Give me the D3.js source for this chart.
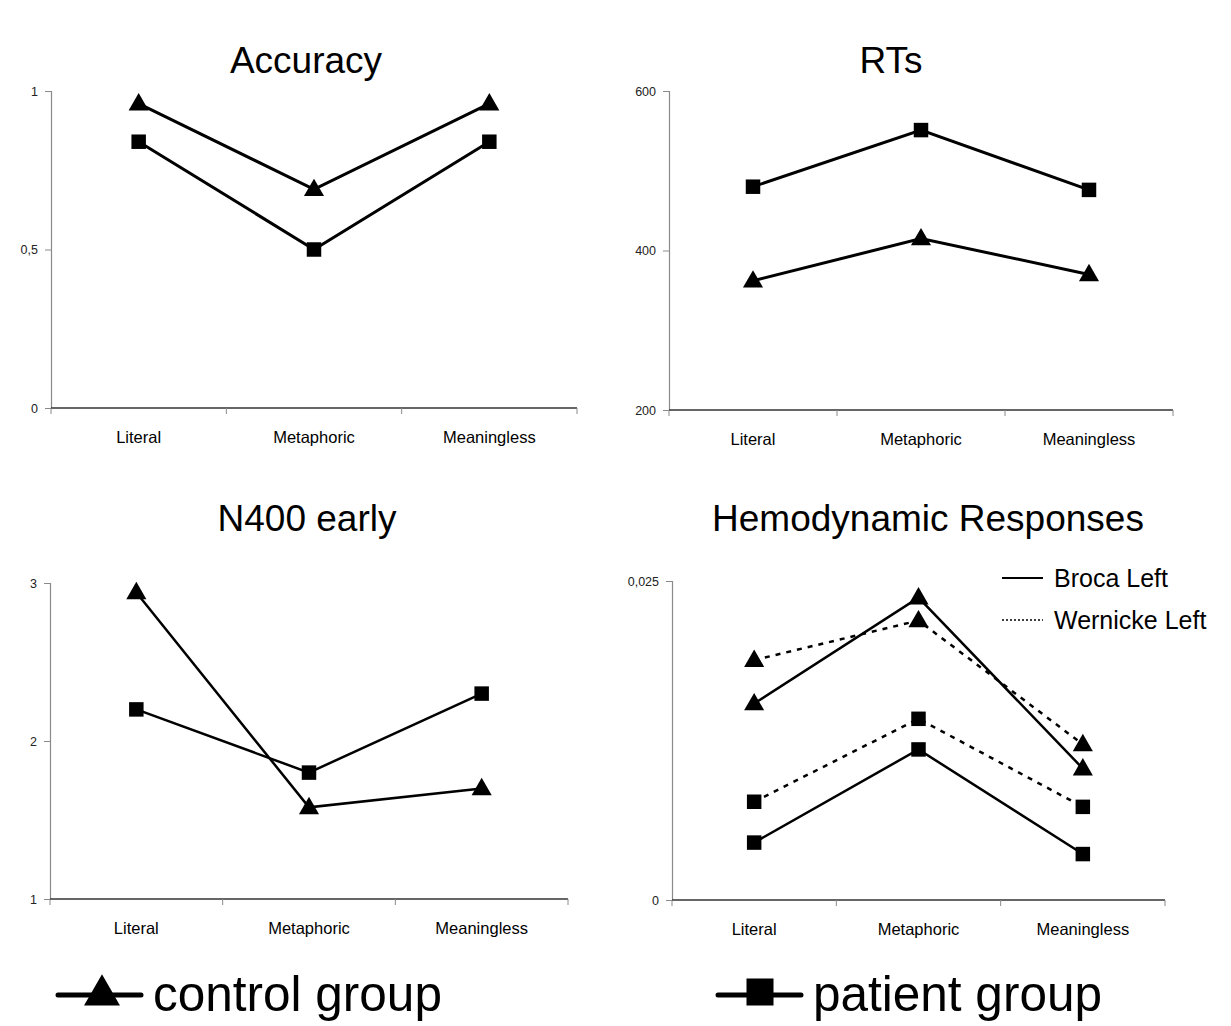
<!DOCTYPE html>
<html>
<head>
<meta charset="utf-8">
<script src="https://cdn.jsdelivr.net/npm/d3@7"></script>
<style>
  body { margin: 0; background: #fff; }
  svg { font-family: "Liberation Sans", Arial, sans-serif; }
</style>
</head>
<body>
<div id="chart"></div>
<script>
// categories shared by all four panels
const categories = ["Literal", "Metaphoric", "Meaningless"];

// Accuracy
const accControl = [0.96, 0.69, 0.96];
const accPatient = [0.84, 0.50, 0.84];
const accTicks = [0, 0.5, 1];

// RTs
const rtControl = [362, 415, 370];
const rtPatient = [480, 551, 476];
const rtTicks = [200, 400, 600];

// N400 early
const n400Control = [2.94, 1.58, 1.70];
const n400Patient = [2.20, 1.80, 2.30];
const n400Ticks = [1, 2, 3];

// Hemodynamic responses
const brocaControl = [0.0154, 0.0237, 0.0103];
const brocaPatient = [0.0045, 0.0118, 0.0036];
const wernickeControl = [0.0188, 0.0219, 0.0122];
const wernickePatient = [0.0077, 0.0142, 0.0073];
const hemoTicks = [0, 0.025];

const width = 1231;
const height = 1026;

const svg = d3.select("#chart")
  .append("svg")
  .attr("width", width)
  .attr("height", height);

const fmt = d => String(d).replace(".", ",");

function drawPanel(p) {
  const g = svg.append("g");
  const x = d3.scaleBand().domain(categories).range([p.x0, p.x1]).padding(0);
  const y = d3.scaleLinear().domain(p.domain).range([p.yBot, p.yTop]);

  // title
  g.append("text")
    .attr("x", p.titleX)
    .attr("y", p.titleY)
    .attr("text-anchor", "middle")
    .attr("font-size", 37)
    .attr("fill", "#000")
    .text(p.title);

  // y axis
  const yAxis = g.append("g")
    .attr("transform", `translate(${p.x0},0)`)
    .call(d3.axisLeft(y).tickValues(p.ticks).tickFormat(fmt).tickSize(6).tickPadding(7));
  yAxis.select(".domain").attr("stroke", "#8a8a8a").attr("stroke-width", 1.2);
  yAxis.selectAll(".tick line").attr("stroke", "#8a8a8a");
  yAxis.selectAll(".tick text")
    .attr("font-size", 12.5)
    .attr("fill", "#222")
    .attr("font-family", "Liberation Sans, Arial, sans-serif");

  // x axis with ticks at band boundaries
  const xAxis = g.append("g").attr("transform", `translate(0,${p.yBot})`);
  xAxis.append("line")
    .attr("x1", p.x0).attr("x2", p.x1)
    .attr("stroke", "#333").attr("stroke-width", 1.3);
  const bounds = categories.map(c => x(c)).concat([p.x1]);
  xAxis.selectAll("line.bt").data(bounds).join("line")
    .attr("class", "bt")
    .attr("x1", d => d).attr("x2", d => d)
    .attr("y1", 0).attr("y2", 6)
    .attr("stroke", "#8a8a8a");
  xAxis.selectAll("text").data(categories).join("text")
    .attr("x", d => x(d) + x.bandwidth() / 2)
    .attr("y", 35)
    .attr("text-anchor", "middle")
    .attr("font-size", 16.5)
    .attr("fill", "#000")
    .text(d => d);

  const line = d3.line()
    .x((d, i) => x(categories[i]) + x.bandwidth() / 2)
    .y(d => y(d));

  p.series.forEach(s => {
    g.append("path")
      .datum(s.values)
      .attr("d", line)
      .attr("fill", "none")
      .attr("stroke", "#000")
      .attr("stroke-width", p.lineWidth)
      .attr("stroke-dasharray", s.dash || null);
    const sym = d3.symbol()
      .type(s.marker === "tri" ? d3.symbolTriangle : d3.symbolSquare)
      .size(s.marker === "tri" ? 175 : 210);
    g.selectAll(null).data(s.values).join("path")
      .attr("transform", (d, i) => `translate(${x(categories[i]) + x.bandwidth() / 2},${y(d) + (s.marker === "tri" ? 1 : 0)})`)
      .attr("d", sym)
      .attr("fill", "#000");
  });
  return g;
}

drawPanel({
  title: "Accuracy", titleX: 306, titleY: 73,
  x0: 51, x1: 577, yTop: 91, yBot: 408, domain: [0, 1], ticks: accTicks,
  lineWidth: 3,
  series: [
    { values: accControl, marker: "tri" },
    { values: accPatient, marker: "sq" }
  ]
});

drawPanel({
  title: "RTs", titleX: 891, titleY: 73,
  x0: 669, x1: 1173, yTop: 91, yBot: 410, domain: [200, 600], ticks: rtTicks,
  lineWidth: 3,
  series: [
    { values: rtControl, marker: "tri" },
    { values: rtPatient, marker: "sq" }
  ]
});

drawPanel({
  title: "N400 early", titleX: 307, titleY: 531,
  x0: 50, x1: 568, yTop: 583, yBot: 899, domain: [1, 3], ticks: n400Ticks,
  lineWidth: 2.5,
  series: [
    { values: n400Control, marker: "tri" },
    { values: n400Patient, marker: "sq" }
  ]
});

const hemo = drawPanel({
  title: "Hemodynamic Responses", titleX: 928, titleY: 531,
  x0: 672, x1: 1165, yTop: 581, yBot: 900, domain: [0, 0.025], ticks: hemoTicks,
  lineWidth: 2.5,
  series: [
    { values: wernickeControl, marker: "tri", dash: "5,6" },
    { values: wernickePatient, marker: "sq", dash: "5,6" },
    { values: brocaControl, marker: "tri" },
    { values: brocaPatient, marker: "sq" }
  ]
});

// region legend inside hemodynamic panel
const regionLegend = [
  { label: "Broca Left", dash: null, y: 578 },
  { label: "Wernicke Left", dash: "2,2", y: 620 }
];
regionLegend.forEach(r => {
  hemo.append("line")
    .attr("x1", 1002).attr("x2", 1043)
    .attr("y1", r.y).attr("y2", r.y)
    .attr("stroke", "#000")
    .attr("stroke-width", r.dash ? 1.5 : 2)
    .attr("stroke-dasharray", r.dash);
  hemo.append("text")
    .attr("x", 1054).attr("y", r.y + 9)
    .attr("font-size", 25)
    .attr("fill", "#000")
    .text(r.label);
});

// group legend at the bottom
const groupLegend = [
  { label: "control group", marker: "tri", x: 58 },
  { label: "patient group", marker: "sq", x: 718 }
];
groupLegend.forEach(gl => {
  const lg = svg.append("g").attr("transform", `translate(${gl.x},0)`);
  lg.append("line")
    .attr("x1", 0).attr("x2", 83)
    .attr("y1", 995).attr("y2", 995)
    .attr("stroke", "#000").attr("stroke-width", 5)
    .attr("stroke-linecap", "round");
  const sym = d3.symbol()
    .type(gl.marker === "tri" ? d3.symbolTriangle : d3.symbolSquare)
    .size(gl.marker === "tri" ? 560 : 730);
  lg.append("path")
    .attr("transform", `translate(${gl.marker === "tri" ? 44 : 42},${gl.marker === "tri" ? 995 : 992})`)
    .attr("d", sym)
    .attr("fill", "#000");
  lg.append("text")
    .attr("x", 95).attr("y", 1011)
    .attr("font-size", 49.5)
    .attr("fill", "#000")
    .text(gl.label);
});
</script>
</body>
</html>
